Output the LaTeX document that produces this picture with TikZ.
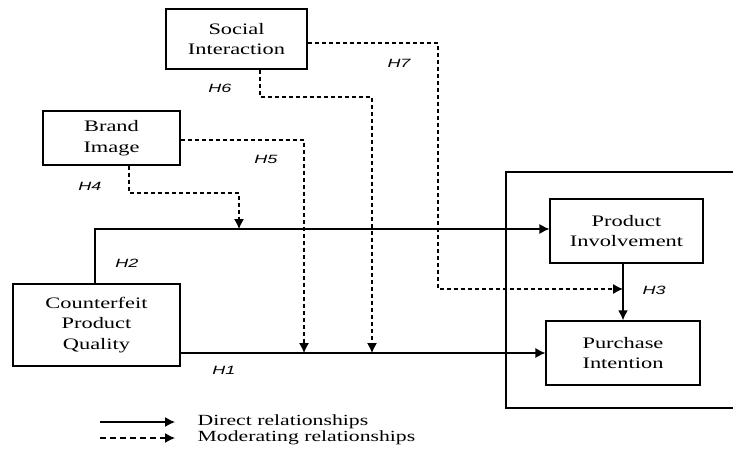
\documentclass[tikz,border=0pt]{standalone}
\usepackage{fontspec}
\setmainfont[FakeStretch=1.4]{Liberation Serif}
\newfontfamily\hypfont[FakeStretch=1.5]{Liberation Sans}
\usetikzlibrary{arrows.meta,positioning}

\begin{document}
\begin{tikzpicture}[x=1pt, y=-1pt, -{Latex[length=10pt,width=10pt]}, line width=1.3pt,
    main node/.style={draw, -, line width=1.1pt, align=center, inner sep=0pt,
        font=\fontsize{16}{20.5}\selectfont},
    hyp/.style={font=\hypfont\itshape\fontsize{12}{14}\selectfont},
    moder/.style={dash pattern=on 4pt off 3pt, line width=1.1pt}]
    \useasboundingbox (0,0) rectangle (733,452);
    % constructs
    \node[main node, minimum width=141pt, minimum height=60pt] (SI) at (236.5,39) {Social\\Interaction};
    \node[main node, minimum width=137pt, minimum height=54pt] (BI) at (111.5,138) {Brand\\Image};
    \node[main node, minimum width=167pt, minimum height=82pt] (CPQ) at (96.5,325) {Counterfeit\\Product\\Quality};
    \node[main node, minimum width=153pt, minimum height=64pt] (PInv) at (626.5,231) {Product\\Involvement};
    \node[main node, minimum width=154pt, minimum height=64pt] (PurI) at (623,353) {Purchase\\Intention};
    % outer frame (open on the right)
    \draw[-, line width=1.1pt] (733,172) -- (506,172) -- (506,408) -- (733,408);
    % bends
    \coordinate (h2) at (95,229);
    \coordinate (h4a) at (129,193);
    \coordinate (h4b) at (239,193);
    \coordinate (h5) at (304,140);
    \coordinate (h6a) at (260,97);
    \coordinate (h6b) at (372,97);
    \coordinate (h7) at (438,289);
    % direct paths
    \draw (h2 |- CPQ.north) -- (h2) -- (h2 -| PInv.west);
    \draw (PurI.west -| CPQ.east) -- (PurI.west);
    \draw[line width=2.2pt] (PurI.north |- PInv.south) -- (PurI.north);
    % moderating paths
    \draw[moder] (h4a |- BI.south) -- (h4a) -- (h4b) -- (h4b |- h2);
    \draw[moder] (BI.east |- h5) -- (h5) -- (h5 |- PurI.west);
    \draw[moder] (h6a |- SI.south) -- (h6a) -- (h6b) -- (h6b |- PurI.west);
    \draw[moder] (SI.east |- 0,43) -| (h7) -- (h7 -| PurI.north);
    % hypotheses
    \node[hyp] (H1) at (224,370) {H1};
    \node[hyp] (H2) at (127,263) {H2};
    \node[hyp] (H3) at (654,290) {H3};
    \node[hyp] (H4) at (90,186) {H4};
    \node[hyp] (H5) at (266,159) {H5};
    \node[hyp] (H6) at (220,88) {H6};
    \node[hyp] (H7) at (399,63) {H7};
    % legend
    \coordinate (d1) at (100,422);
    \coordinate (d2) at (175,422);
    \coordinate (m1) at (100,438);
    \coordinate (m2) at (175,438);
    \draw (d1) -- (d2);
    \draw[dash pattern=on 6pt off 4pt, line width=1.3pt] (m1) -- (m2);
    \node[anchor=west, inner sep=0pt, font=\fontsize{15.5}{17}\selectfont] (direct) at (197,422) {Direct relationships};
    \node[anchor=west, inner sep=0pt, font=\fontsize{15.5}{17}\selectfont] (moderating) at (197,438) {Moderating relationships};
\end{tikzpicture}
\end{document}
